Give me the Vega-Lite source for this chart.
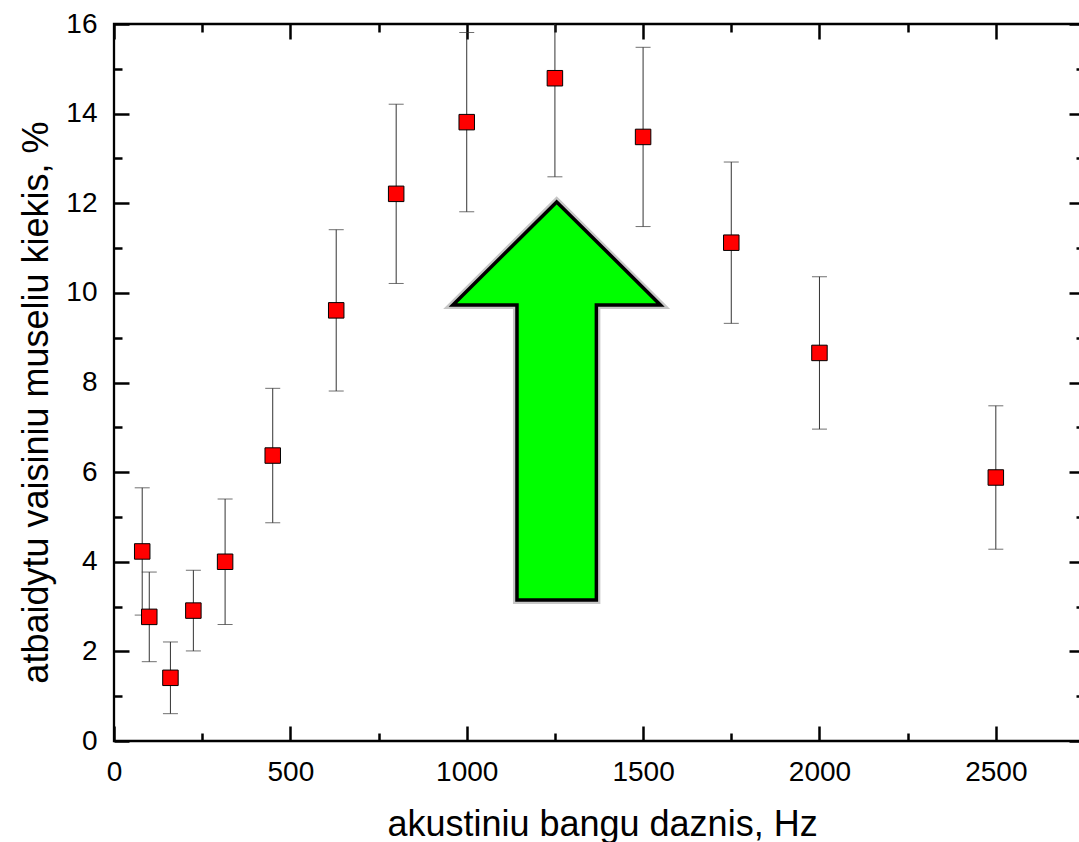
{
  "$schema": "https://vega.github.io/schema/vega-lite/v6.json",
  "width": 970,
  "height": 717,
  "autosize": {"type": "none"},
  "padding": {"left": 114, "top": 24, "right": 0, "bottom": 101},
  "background": "white",
  "datasets": {
    "fly": [
      {"f": 80, "v": 4.23, "err": 1.42},
      {"f": 100, "v": 2.77, "err": 1.0},
      {"f": 160, "v": 1.41, "err": 0.8},
      {"f": 225, "v": 2.91, "err": 0.9},
      {"f": 315, "v": 4.0, "err": 1.4},
      {"f": 450, "v": 6.37, "err": 1.5},
      {"f": 630, "v": 9.61, "err": 1.8},
      {"f": 800, "v": 12.21, "err": 2.0},
      {"f": 1000, "v": 13.81, "err": 2.0},
      {"f": 1250, "v": 14.79, "err": 2.2},
      {"f": 1500, "v": 13.48, "err": 2.0},
      {"f": 1750, "v": 11.12, "err": 1.8},
      {"f": 2000, "v": 8.66, "err": 1.7},
      {"f": 2500, "v": 5.88, "err": 1.6}
    ],
    "arrow": [{"f": 1255, "v": 7.533}]
  },
  "layer": [
    {
      "data": {"name": "arrow"},
      "mark": {
        "type": "point",
        "shape": "M 0 -1 L 0.515 -0.489 L 0.197 -0.489 L 0.197 0.975 L -0.197 0.975 L -0.197 -0.489 L -0.515 -0.489 Z",
        "size": 162409,
        "filled": false,
        "stroke": "#9a9a9a",
        "strokeWidth": 8,
        "opacity": 0.55
      },
      "encoding": {
        "x": {"field": "f", "type": "quantitative", "scale": {"domain": [0, 2750], "nice": false},
              "axis": {"orient": "top", "values": [250, 750, 1250, 1750, 2250, 2750], "tickSize": -8, "tickWidth": 2.5, "tickColor": "black", "labels": false, "title": null}},
        "y": {"field": "v", "type": "quantitative", "scale": {"domain": [0, 16], "nice": false},
              "axis": {"orient": "right", "values": [1, 3, 5, 7, 9, 11, 13, 15], "tickSize": -8, "tickWidth": 2.5, "tickColor": "black", "labels": false, "title": null}}
      }
    },
    {
      "data": {"name": "arrow"},
      "mark": {
        "type": "point",
        "shape": "M 0 -1 L 0.515 -0.489 L 0.197 -0.489 L 0.197 0.975 L -0.197 0.975 L -0.197 -0.489 L -0.515 -0.489 Z",
        "size": 162409,
        "filled": true,
        "fill": "#00ff00",
        "stroke": "black",
        "strokeWidth": 3.5,
        "opacity": 1
      },
      "encoding": {
        "x": {"field": "f", "type": "quantitative", "scale": {"domain": [0, 2750], "nice": false},
              "axis": {"orient": "top", "values": [0, 500, 1000, 1500, 2000, 2500], "tickSize": -15, "tickWidth": 2.5, "tickColor": "black", "labels": false, "title": null}},
        "y": {"field": "v", "type": "quantitative", "scale": {"domain": [0, 16], "nice": false},
              "axis": {"orient": "right", "values": [0, 2, 4, 6, 8, 10, 12, 14, 16], "tickSize": -15, "tickWidth": 2.5, "tickColor": "black", "labels": false, "title": null}}
      }
    },
    {
      "data": {"name": "fly"},
      "mark": {
        "type": "errorbar",
        "clip": true,
        "ticks": {"size": 15, "color": "#333333", "thickness": 1},
        "rule": {"color": "#333333", "strokeWidth": 1}
      },
      "encoding": {
        "x": {"field": "f", "type": "quantitative", "scale": {"domain": [0, 2750], "nice": false},
              "axis": {"orient": "bottom", "values": [0, 500, 1000, 1500, 2000, 2500], "format": "d", "tickSize": -15, "tickWidth": 2.5, "tickColor": "black", "labelPadding": 32, "labelFlush": false,
                       "title": "akustiniu bangu daznis, Hz", "titleBaseline": "alphabetic", "titleAlign": "center", "titleX": 488, "titleY": 94}},
        "y": {"field": "v", "type": "quantitative", "scale": {"domain": [0, 16], "nice": false},
              "axis": {"orient": "left", "values": [0, 2, 4, 6, 8, 10, 12, 14, 16], "format": "d", "tickSize": -15, "tickWidth": 2.5, "tickColor": "black", "labelPadding": 32,
                       "title": "atbaidytu vaisiniu museliu kiekis, %", "titleAngle": 270, "titleBaseline": "alphabetic", "titleAlign": "center", "titleX": -67, "titleY": 378}},
        "yError": {"field": "err"}
      }
    },
    {
      "data": {"name": "fly"},
      "mark": {"type": "point", "shape": "square", "size": 240, "filled": true, "fill": "#ff0000", "stroke": "black", "strokeWidth": 1, "opacity": 1},
      "encoding": {
        "x": {"field": "f", "type": "quantitative", "scale": {"domain": [0, 2750], "nice": false},
              "axis": {"orient": "bottom", "values": [250, 750, 1250, 1750, 2250, 2750], "tickSize": -8, "tickWidth": 2.5, "tickColor": "black", "labels": false, "title": null}},
        "y": {"field": "v", "type": "quantitative", "scale": {"domain": [0, 16], "nice": false},
              "axis": {"orient": "left", "values": [1, 3, 5, 7, 9, 11, 13, 15], "tickSize": -8, "tickWidth": 2.5, "tickColor": "black", "labels": false, "title": null}}
      }
    }
  ],
  "resolve": {"axis": {"x": "independent", "y": "independent"}},
  "config": {
    "view": {"stroke": "black", "strokeWidth": 2.3, "fill": "white"},
    "axis": {
      "domain": false,
      "grid": false,
      "tickColor": "black",
      "tickWidth": 2.5,
      "labelFont": "Liberation Sans",
      "labelFontSize": 28,
      "labelColor": "#000000",
      "titleFont": "Liberation Sans",
      "titleFontSize": 36,
      "titleFontWeight": "normal",
      "titleColor": "#000000"
    }
  }
}
